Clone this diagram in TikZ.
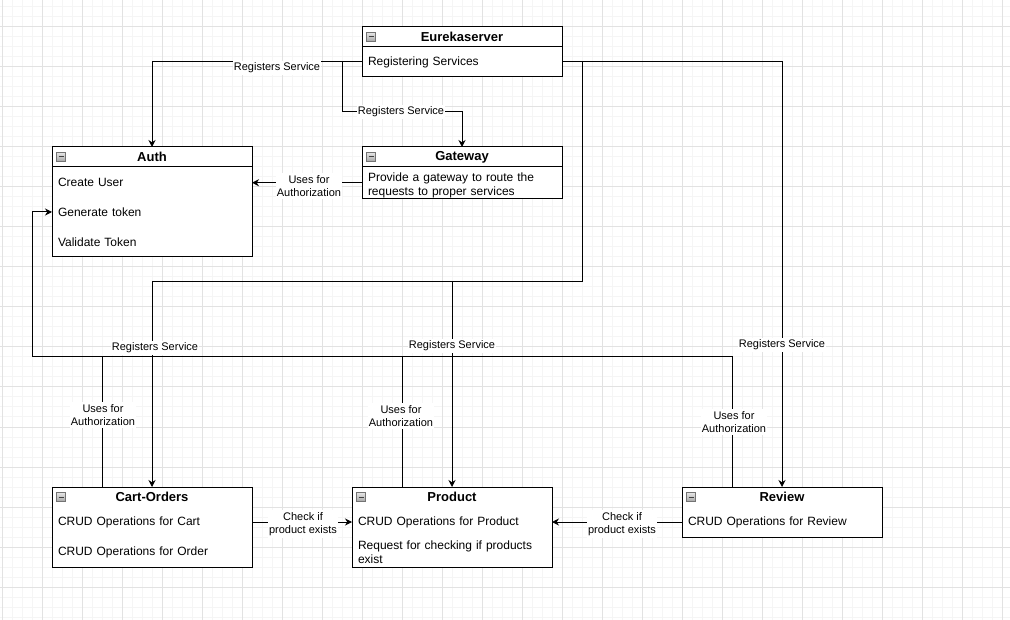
\documentclass[tikz,border=0pt]{standalone}
\usepackage{fontspec}
\setmainfont{Liberation Sans}
\usepackage{tikz}
\usetikzlibrary{arrows.meta,positioning,calc}
\definecolor{gridmajor}{HTML}{E2E2E2}
\definecolor{gridminor}{HTML}{F5F5F5}
\tikzset{
  classhead/.style={
    draw, line width=1pt, fill=white, minimum width=200pt, minimum height=20pt,
    inner sep=0pt, outer sep=0pt, font=\fontsize{13}{15}\selectfont\bfseries
  },
  classitem/.style={
    fill=white, minimum width=200pt, minimum height=30pt, text width=188pt,
    inner xsep=6pt, inner ysep=0pt, outer sep=0pt, align=left,
    font=\fontsize{12}{14}\selectfont
  },
  classframe/.style={draw, line width=1pt},
  minusicon/.style={
    draw=black!55, top color=black!10, bottom color=black!35, minimum size=9pt,
    inner sep=0pt, outer sep=0pt,
    path picture={\draw[line width=1pt, black!75]
      ([xshift=2pt]path picture bounding box.west) -- ([xshift=-2pt]path picture bounding box.east);}
  },
  conn/.style={line width=1pt, -{Stealth[length=7pt, width=7pt]}},
  link/.style={line width=1pt},
  edgelabel/.style={
    fill=white, inner xsep=1pt, inner ysep=2pt, align=center,
    font=\fontsize{11}{13.5}\selectfont
  }
}

\begin{document}
\begin{tikzpicture}[x=1pt, y=-1pt]
\useasboundingbox (0,0) rectangle (1010,620);
\begin{scope}
\clip (0,0) rectangle (1010,620);
\foreach \gx in {2,12,...,1002} \draw[gridminor, line width=1pt] (\gx,0) -- (\gx,620);
\foreach \gy in {7,17,...,617} \draw[gridminor, line width=1pt] (0,\gy) -- (1010,\gy);
\foreach \gx in {2,42,...,1002} \draw[gridmajor, line width=1pt] (\gx,0) -- (\gx,620);
\foreach \gy in {27,67,...,587} \draw[gridmajor, line width=1pt] (0,\gy) -- (1010,\gy);
\end{scope}

\node[classhead, anchor=north west] (eureka) at (362,27) {Eurekaserver};
\node[classitem, below=0pt of eureka] (eurekareg) {Registering Services};
\draw[classframe] (eureka.north west) rectangle (eurekareg.south east);

\node[classhead, anchor=north west] (auth) at (52,147) {Auth};
\node[classitem, below=0pt of auth] (authcreate) {Create User};
\node[classitem, below=0pt of authcreate] (authgen) {Generate token};
\node[classitem, below=0pt of authgen] (authvalid) {Validate Token};
\draw[classframe] (auth.north west) rectangle (authvalid.south east);

\node[classhead, anchor=north west] (gateway) at (362,147) {Gateway};
\node[classitem, below=0pt of gateway] (gatewayinfo) {\mbox{}\\[1pt]Provide a gateway to route the\\requests to proper services};
\draw[classframe] (gateway.north west) rectangle (gatewayinfo.south east);

\node[classhead, anchor=north west] (cart) at (52,487) {Cart-Orders};
\node[classitem, below=0pt of cart] (cartcrud) {CRUD Operations for Cart};
\node[classitem, below=0pt of cartcrud] (cartorder) {CRUD Operations for Order};
\draw[classframe] (cart.north west) rectangle (cartorder.south east);

\node[classhead, anchor=north west] (product) at (352,487) {Product};
\node[classitem, below=0pt of product] (productcrud) {CRUD Operations for Product};
\node[classitem, below=0pt of productcrud] (productcheck) {Request for checking if products\\exist};
\draw[classframe] (product.north west) rectangle (productcheck.south east);

\node[classhead, anchor=north west] (review) at (682,487) {Review};
\node[classitem, below=0pt of review] (reviewcrud) {CRUD Operations for Review};
\draw[classframe] (review.north west) rectangle (reviewcrud.south east);

\foreach \cls in {eureka,auth,gateway,cart,product,review}
  \node[minusicon] (\cls icon) at ([xshift=9pt]\cls.west) {};

\coordinate (gwbend) at (342,112);
\coordinate (regbend) at (582,282);
\coordinate (authloop) at (32,357);

\draw[conn] (eurekareg.west) -| (auth.north);
\draw[conn] (eurekareg.west) -| (gwbend) -| (gateway.north);
\draw[conn] (eurekareg.east) -| (regbend) -| (cart.north);
\draw[conn] (regbend) -| (product.north);
\draw[conn] (eurekareg.east) -| (review.north);
\draw[conn] (gatewayinfo.west) -- (gatewayinfo.west -| authcreate.east);
\draw[conn] ([xshift=50pt]cart.north west) |- (authloop) |- (authgen.west);
\draw[link] ([xshift=50pt]product.north west) |- (authloop);
\draw[link] ([xshift=50pt]review.north west) |- (authloop);
\draw[conn] (cartcrud.east) -- (productcrud.west);
\draw[conn] (reviewcrud.west) -- (productcrud.east);

\node[edgelabel] (regauth) at (277,68) {Registers Service};
\node[edgelabel] (reggateway) at (401,112) {Registers Service};
\node[edgelabel] (regcart) at (155,348) {Registers Service};
\node[edgelabel] (regproduct) at (452,346) {Registers Service};
\node[edgelabel] (regreview) at (782,345) {Registers Service};
\node[edgelabel] (authgateway) at (309,186) {Uses for\\Authorization};
\node[edgelabel] (authcart) at (103,415) {Uses for\\Authorization};
\node[edgelabel] (authproduct) at (401,416) {Uses for\\Authorization};
\node[edgelabel] (authreview) at (734,422) {Uses for\\Authorization};
\node[edgelabel] (checkcart) at (303,524) {Check if\\product exists};
\node[edgelabel] (checkreview) at (622,524) {Check if\\product exists};
\end{tikzpicture}
\end{document}
